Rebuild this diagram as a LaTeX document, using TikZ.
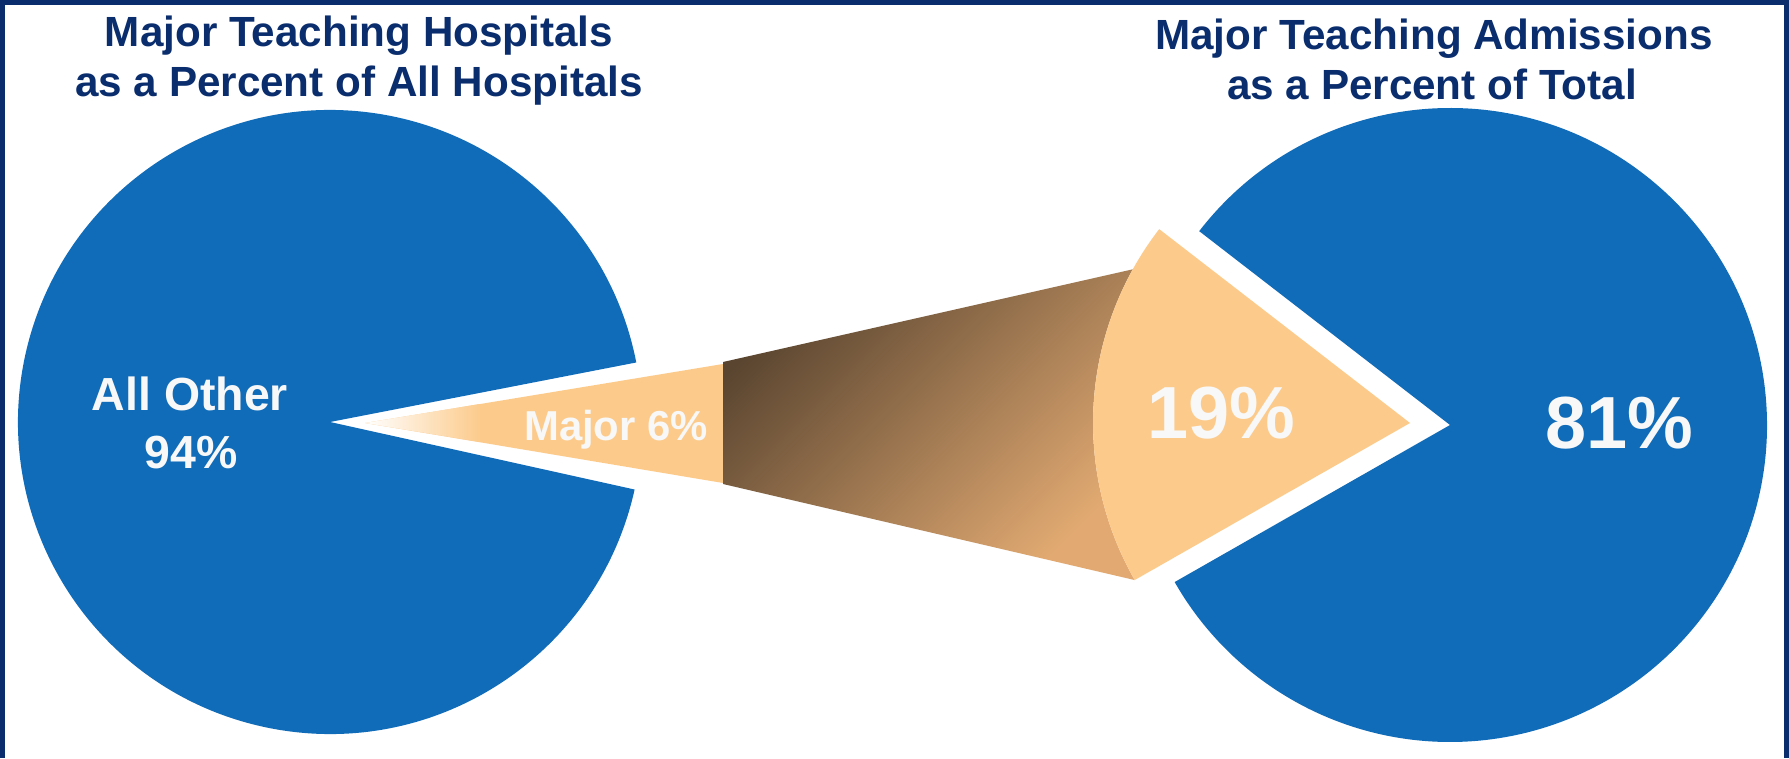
\documentclass[tikz,border=0pt]{standalone}
\usepackage{fontspec}
\setmainfont{Liberation Sans}
\usetikzlibrary{calc}
\definecolor{pieblue}{HTML}{106CB8}
\definecolor{navy}{HTML}{0A2D6E}
\definecolor{peach}{HTML}{FCCB8C}
\definecolor{brownA}{HTML}{5A4530}
\definecolor{brownB}{HTML}{E2AA72}
\definecolor{offwhite}{HTML}{F8F8F8}
\tikzset{
  titletext/.style={anchor=base, inner sep=0pt, text=navy, font=\fontsize{12}{14}\selectfont\bfseries},
  pietext/.style={anchor=base, inner sep=0pt, text=offwhite, font=\fontsize{13.2}{15}\selectfont\bfseries},
  smalltext/.style={anchor=base, inner sep=0pt, text=offwhite, font=\fontsize{11.9}{14}\selectfont\bfseries},
  bigtext/.style={anchor=base, inner sep=0pt, text=offwhite, font=\fontsize{21}{24}\selectfont\bfseries},
  frameline/.style={draw=navy, line width=1.45pt}
}
\begin{document}
\begin{tikzpicture}[x=0.01cm, y=-0.01cm]
\useasboundingbox (0,0) rectangle (1789,758);
\fill[white] (0,0) rectangle (1789,758);
% centres
\coordinate (LC) at (330,422);
\coordinate (RC) at (1450,425);
\coordinate (SC) at (1410,423);
% left pie (94%)
\fill[pieblue] (LC) -- ++(12.5:312) arc[start angle=12.5, end angle=349, radius=312] -- cycle;
% right pie (81%)
\fill[pieblue] (RC) -- ++(217.7:317) arc[start angle=217.7, end angle=510.3, radius=317] -- cycle;
% left slice (6%)
\coordinate (WA) at (365,423);
\coordinate (WB) at (723,364);
\coordinate (WC) at (723,483);
\coordinate (WD) at (480,404);
\coordinate (WE) at (480,442);
\fill[peach] (WA) -- (WB) -- (WC) -- cycle;
\shade[left color=white, right color=peach] (WA) -- (WD) -- (WE) -- cycle;
% funnel
\coordinate (FA) at (723,362);
\coordinate (FB) at ($(SC)+(209:317)$);
\coordinate (FD) at (723,484);
\shade[top color=brownA, bottom color=brownB, shading angle=45]
  (FA) -- (FB) arc[start angle=209, end angle=150.3, radius=317] -- (FD) -- cycle;
% exploded slice (19%)
\fill[peach] (SC) -- ++(217.7:317) arc[start angle=217.7, end angle=150.3, radius=317] -- cycle;
% texts
\node[titletext] (t1) at (359,47) {Major Teaching Hospitals};
\node[titletext] (t2) at (359,97) {as a Percent of All Hospitals};
\node[titletext] (t3) at (1434,50) {Major Teaching Admissions};
\node[titletext] (t4) at (1432,100) {as a Percent of Total};
\node[pietext] (o1) at (190,410) {All Other};
\node[pietext] (o2) at (191,468) {94\%};
\node[smalltext] (m6) at (616,440) {Major 6\%};
\node[bigtext] (p19) at (1221,438) {19\%};
\node[bigtext] (p81) at (1619,448) {81\%};
% frame
\draw[frameline] (2.5,758) -- (2.5,2.5) -- (1786.5,2.5) -- (1786.5,758);
\end{tikzpicture}
\end{document}
